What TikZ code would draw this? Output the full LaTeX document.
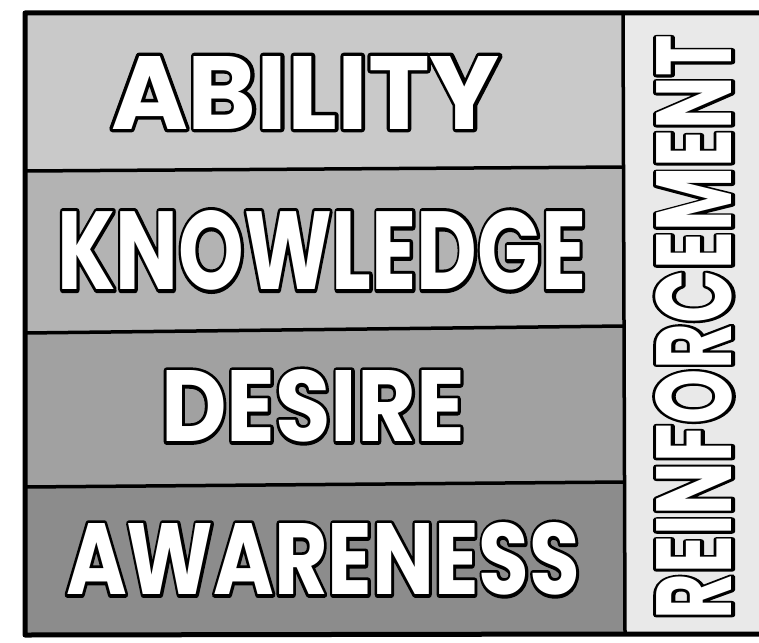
\documentclass[tikz,border=0pt]{standalone}
\usepackage{fontspec}
\newfontfamily\hfont{Poppins}
\definecolor{cAbility}{RGB}{201,201,201}
\definecolor{cKnow}{RGB}{179,179,179}
\definecolor{cDesire}{RGB}{161,161,161}
\definecolor{cAware}{RGB}{140,140,140}
\definecolor{cPanel}{RGB}{233,233,233}
\newcommand{\outword}[3]{\resizebox{#1}{#2}{\fontsize{100}{110}\selectfont\hfont\bfseries\rlap{\color{black}\special{pdf:literal direct 2 Tr 6.5 w 1 j}#3\special{pdf:literal direct 0 Tr 1 w 0 j}}{\color{white}#3}}}
\begin{document}
\begin{tikzpicture}[x=1pt,y=-1pt,
  band/.style={draw=black,line width=3.5pt,line join=round},
  word/.style={inner sep=0pt,anchor=center}]
\useasboundingbox (0,0) rectangle (759,642);
\fill[white] (0,0) rectangle (759,642);
\begin{scope}
\clip (0,0) rectangle (759,642);
\fill[cPanel] (623,13) -- (775,13) -- (775,634) -- (625,634) -- cycle;
\fill[cAbility] (25,13) -- (623,13) -- (623,167) -- (25,171) -- cycle;
\fill[cKnow] (25,171) -- (623,167) -- (623,326) -- (25,333) -- cycle;
\fill[cDesire] (25,333) -- (623,326) -- (624,482) -- (25,487) -- cycle;
\fill[cAware] (25,487) -- (624,482) -- (625,634) -- (25,635) -- cycle;
\draw[band] (25,171) -- (623,167);
\draw[band] (25,333) -- (623,326);
\draw[band] (25,487) -- (624,482);
\draw[band] (623,13) -- (625,634);
\draw[draw=black,line width=5pt,line join=round] (775,13) -- (25,13) -- (25,635) -- (625,634) -- (775,634);
\end{scope}
\node[word] (ability) at (305.5,92.5) {\outword{389pt}{73pt}{ABILITY}};
\node[word] (knowledge) at (322,250.5) {\outword{529pt}{79pt}{KNOWLEDGE}};
\node[word] (desire) at (313,406) {\outword{304pt}{72pt}{DESIRE}};
\node[word] (awareness) at (323,559) {\outword{514pt}{72pt}{AWARENESS}};
\node[word,rotate=90] (reinforcement) at (694,327.5) {\outword{584pt}{76pt}{REINFORCEMENT}};
\end{tikzpicture}
\end{document}
